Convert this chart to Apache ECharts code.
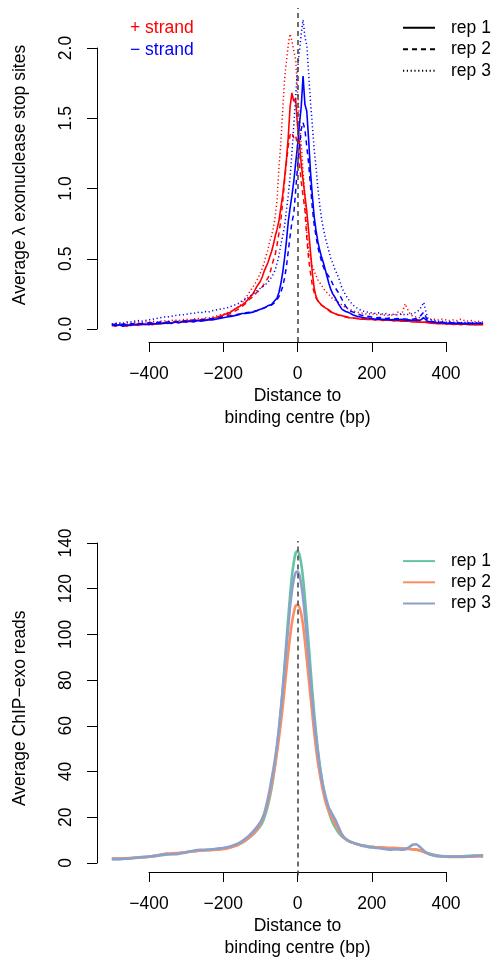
<!DOCTYPE html>
<html><head><meta charset="utf-8">
<script src="https://cdn.jsdelivr.net/npm/echarts@6/dist/echarts.min.js"></script>
<style>html,body{margin:0;padding:0;background:#fff}#c{width:493px;height:960px}</style>
</head><body><div id="c"></div><script>
// Distance to binding centre (bp)
const X = [-500,-490,-480,-470,-460,-450,-440,-430,-420,-410,-400,-390,-380,-370,-360,-350,-340,-330,-320,-310,-300,-290,-280,-270,-260,-250,-240,-230,-220,-210,-200,-190,-180,-170,-160,-150,-140,-130,-120,-110,-100,
 -95,-90,-85,-80,-75,-70,-65,-60,-55,-50,-45,-40,-35,-30,-25,-20,-15,-10,-5,0,5,10,15,20,25,30,35,40,45,50,55,60,65,70,75,80,85,90,95,
 100,110,120,130,140,150,160,170,180,190,200,210,220,230,240,250,260,270,280,290,300,310,320,330,340,350,360,370,380,390,400,410,420,430,440,450,460,470,480,490,500];

// Top panel: average lambda exonuclease stop sites
const plusRep1 = [.025,.02,.03,.025,.02,.03,.03,.025,.035,.03, .035,.03,.04,.035,.045,.04,.045,.05,.045,.055, .05,.06,.055,.06,.065,.06,.07,.075,.08,.09, .10,.11,.12,.14,.155,.17,.19,.22,.25,.30, .34,
 .37,.41,.44,.47,.51,.55,.60,.66,.71,.77, .86,.95,1.07,1.20,1.36,1.58,1.68,1.62,1.64,1.45, 1.33,1.18,1.06,.95,.84,.70,.55,.40,.29,.23, .20,.185,.17,.16,.15,.145,.135,.125,.115,
 .11,.10,.095,.088,.08,.078,.075,.07,.072,.068, .07,.065,.068,.06,.065,.062,.058,.06,.055,.058, .055,.05,.052,.048,.05,.045,.042,.04,.038,.04, .035,.038,.033,.035,.03,.035,.03,.032,.028,.03, .03];
const plusRep2 = [.03,.025,.03,.03,.035,.03,.035,.04,.035,.04, .04,.045,.04,.045,.05,.045,.05,.055,.05,.055, .06,.055,.06,.065,.06,.07,.065,.075,.08,.085, .09,.10,.11,.125,.14,.16,.18,.21,.23,.26, .28,
 .30,.32,.34,.36,.39,.44,.49,.53,.60,.68, .77,.90,1.05,1.18,1.30,1.38,1.40,1.36,1.38,1.30, 1.18,1.05,.95,.85,.65,.50,.40,.31,.26,.22, .20,.18,.17,.16,.15,.14,.13,.12,.115,
 .11,.10,.092,.085,.08,.078,.075,.072,.07,.068, .07,.066,.065,.068,.062,.065,.06,.062,.058,.06, .058,.055,.052,.05,.052,.048,.045,.042,.04,.042, .04,.038,.04,.036,.038,.035,.037,.034,.035,.032, .033];
const plusRep3 = [.035,.04,.035,.04,.045,.04,.045,.05,.045,.05, .05,.055,.05,.055,.06,.055,.06,.065,.06,.065, .07,.065,.07,.075,.07,.08,.078,.085,.09,.10, .105,.115,.125,.14,.155,.18,.22,.26,.30,.34, .40,
 .43,.47,.52,.56,.62,.66,.72,.80,.92,1.15, 1.32,1.55,1.77,1.90,2.02,2.10,2.05,1.98,1.92,1.70, 1.50,1.32,1.12,.95,.70,.56,.50,.45,.41,.38, .35,.33,.31,.29,.27,.26,.245,.23,.215,
 .21,.19,.17,.15,.14,.13,.12,.115,.11,.105, .11,.10,.105,.10,.095,.10,.095,.12,.10,.18, .12,.09,.085,.08,.08,.075,.07,.07,.065,.07, .065,.06,.065,.06,.07,.06,.055,.06,.05,.055, .05];
const minusRep1 = [.03,.025,.03,.02,.03,.025,.03,.035,.03,.035, .03,.04,.035,.04,.04,.045,.04,.05,.045,.05, .05,.055,.05,.06,.055,.06,.065,.065,.07,.075, .08,.085,.09,.095,.10,.11,.11,.115,.12,.13, .14,
 .145,.15,.16,.165,.17,.175,.19,.20,.22,.26, .32,.40,.50,.62,.76,.86,.95,1.05,1.18,1.30, 1.45,1.58,1.80,1.60,1.55,1.35,1.12,.95,.80,.70, .62,.56,.51,.47,.42,.37,.32,.28,.25,
 .23,.18,.14,.125,.115,.10,.09,.085,.08,.078, .075,.07,.072,.068,.07,.065,.068,.065,.07,.062, .065,.06,.065,.062,.08,.055,.05,.048,.045,.045, .042,.04,.042,.04,.038,.04,.037,.04,.038,.04, .04];
const minusRep2 = [.03,.035,.03,.035,.03,.035,.04,.035,.04,.04, .045,.04,.045,.05,.045,.05,.055,.05,.055,.06, .055,.06,.065,.06,.065,.07,.07,.075,.075,.08, .085,.09,.095,.10,.105,.11,.115,.12,.125,.13, .14,
 .145,.15,.155,.16,.165,.17,.18,.19,.21,.23, .26,.30,.36,.44,.55,.66,.76,.82,.98,1.15, 1.28,1.42,1.47,1.42,1.30,1.18,1.02,.86,.74,.66, .58,.53,.48,.44,.41,.39,.37,.35,.32,
 .30,.26,.21,.16,.13,.12,.11,.10,.095,.09, .085,.08,.082,.078,.075,.078,.072,.075,.07,.072, .068,.07,.075,.09,.12,.06,.055,.05,.05,.048, .045,.046,.043,.045,.042,.04,.042,.04,.042,.04, .04];
const minusRep3 = [.035,.04,.045,.04,.05,.05,.055,.06,.055,.06, .065,.07,.075,.08,.085,.085,.09,.095,.10,.10, .105,.11,.11,.12,.115,.125,.12,.13,.135,.14, .145,.15,.16,.17,.18,.20,.21,.23,.25,.27, .29,
 .30,.31,.32,.33,.35,.36,.39,.42,.47,.52, .60,.66,.73,.84,.95,1.08,1.25,1.45,1.65,1.85, 1.97,2.10,2.20,2.08,2.02,1.82,1.62,1.45,1.28,1.15, 1.00,.88,.78,.71,.65,.60,.55,.50,.47,
 .43,.37,.29,.24,.20,.17,.15,.135,.125,.12, .115,.11,.115,.105,.11,.10,.105,.10,.11,.10, .105,.11,.12,.14,.19,.08,.065,.06,.055,.055, .05,.052,.048,.05,.045,.048,.044,.046,.042,.045, .045];

// Bottom panel: average ChIP-exo reads
const readsRep1 = [1.7,1.8,1.8,1.9,2.0,2.1,2.2,2.3,2.4,2.5, 2.7,2.9,3.1,3.3,3.5,3.7,3.9,4.1,4.3,4.5, 4.7,4.9,5.1,5.3,5.5,5.6,5.7,5.8,5.9,6.1, 6.3,6.6,7.0,7.5,8.1,8.8,9.8,11.0,12.4,14.1, 16.2,
 17.5,19.5,22,25,28.5,32.5,37.5,43.5,50.5,58, 66.5,76,86,96.5,107,117,125.5,131.5,135.5,136.5, 135,131,124.5,116,106,96,85.5,75,65.5,57, 49.5,43,37.5,32.5,28.5,25,22,19.5,17.5,
 16,13.4,11.6,10.3,9.4,8.8,8.3,7.9,7.6,7.3, 7.1,6.9,6.8,6.6,6.5,6.4,6.3,6.2,6.2,6.2, 6.1,6.0,5.9,5.6,5.0,4.4,3.9,3.5,3.2,3.0, 2.9,2.8,2.8,2.8,2.9,3.0,3.1,3.2,3.3,3.3, 3.3];
const readsRep2 = [1.9,1.9,2.0,2.0,2.1,2.2,2.3,2.4,2.5,2.6, 2.8,3.0,3.3,3.6,3.9,4.1,4.2,4.3,4.4,4.6, 4.8,5.0,5.2,5.3,5.4,5.5,5.6,5.7,5.8,5.9, 6.1,6.4,6.8,7.3,8.0,8.9,10.0,11.3,12.8,14.6, 16.8,
 19,21,23.5,26.5,30,34,38.5,43,48.5,54.5, 61,68,76,84,92,99,105,109.5,112.5,113, 112,109,104,97,89,81,73,65,57,50, 44,39,34.5,30.5,27,24.5,22.5,21,19,
 17.5,14.5,12,10.5,9.5,8.8,8.2,7.8,7.4,7.1, 7.0,6.9,6.9,6.8,6.7,6.6,6.6,6.5,6.4,6.3, 6.2,6.0,5.8,5.4,4.8,4.2,3.6,3.2,3.0,2.9, 2.8,2.7,2.7,2.7,2.7,2.7,2.8,2.8,2.9,2.9, 2.8];
const readsRep3 = [1.8,1.7,1.7,1.8,1.9,2.0,2.2,2.4,2.6,2.7, 2.8,3.0,3.2,3.5,3.8,3.9,3.8,3.8,4.0,4.3, 4.6,5.0,5.4,5.7,5.8,5.8,5.9,6.0,6.2,6.4, 6.6,6.9,7.3,7.9,8.6,9.5,10.7,12.1,13.7,15.6, 17.8,
 19.5,21.5,24.5,28,32,36.5,41,46,52,59, 67,75,84,94,103,112,119,124,127,127.5, 126,122,116,108,99,90,80,71,62,55, 48,42,37,33,29.5,26.5,24,22.5,21,
 19.5,16,12.5,10.5,9.5,8.8,8.3,7.8,7.4,7.0, 6.8,6.6,6.5,6.2,6.0,5.8,5.9,6.0,5.8,6.0, 6.8,8.0,8.2,7.0,5.5,4.2,3.6,3.2,3.0,2.9, 2.8,2.8,2.8,2.8,2.8,2.8,2.9,3.0,3.1,3.3, 3.4];

const topYTicks = {min: 0, max: 2, interval: 0.5};
const bottomYTicks = {min: 0, max: 140, interval: 20};
const xTicks = {min: -400, max: 400, interval: 200};

const FONT = '"Liberation Sans", Arial, Helvetica, sans-serif';
const FS = 17.5;
const RED = '#FF0000', BLUE = '#0000FF';
const GREEN = '#66C2A5', ORANGE = '#FC8D62', PURPLE = '#8DA0CB';
const DASH = [5, 4], DOT = [1.2, 2.6];
const CLEAR = 'rgba(0,0,0,0)';

const pts = arr => X.map((x, i) => [x, arr[i]]);
const minus = v => (v < 0 ? '\u2212' + Math.abs(v) : String(v));
const txt = (extra) => Object.assign({fontFamily: FONT, fontSize: FS, color: '#000'}, extra || {});

const centreLine = {
  silent: true, symbol: ['none', 'none'], label: {show: false},
  lineStyle: {color: '#404040', width: 1.5, type: DASH},
  data: [{xAxis: 0}]
};

function line(name, arr, xi, color, type, width, extra) {
  return Object.assign({
    name, type: 'line', xAxisIndex: xi, yAxisIndex: xi, data: pts(arr),
    symbol: 'circle', symbolSize: 0, showSymbol: false, clip: true,
    lineStyle: {color, width, type, cap: 'butt'},
    itemStyle: {color: CLEAR, borderWidth: 0}
  }, extra || {});
}
function legendDummy(name, type) {
  return {name, type: 'line', xAxisIndex: 0, yAxisIndex: 0, data: [],
    symbol: 'circle', symbolSize: 0, showSymbol: false,
    lineStyle: {color: '#000', width: 1.2, type}, itemStyle: {color: CLEAR, borderWidth: 0}};
}

const hiddenAxis = (gi) => ({type: 'value', gridIndex: gi, show: false});
const tickX = (gi) => ({
  type: 'value', gridIndex: gi, min: xTicks.min, max: xTicks.max, interval: xTicks.interval,
  axisLine: {show: true, onZero: false, lineStyle: {color: '#000', width: 1}},
  axisTick: {show: true, length: 10, lineStyle: {color: '#000', width: 1}},
  axisLabel: txt({show: true, margin: 22, lineHeight: 20, formatter: minus, showMinLabel: true, showMaxLabel: true}),
  splitLine: {show: false},
  name: 'Distance to\nbinding centre (bp)', nameLocation: 'middle', nameGap: 43,
  nameTextStyle: txt({lineHeight: 22})
});
const tickY = (gi, t, fmt) => ({
  type: 'value', gridIndex: gi, position: 'left', min: t.min, max: t.max, interval: t.interval,
  axisLine: {show: true, onZero: false, lineStyle: {color: '#000', width: 1}},
  axisTick: {show: true, length: 10, lineStyle: {color: '#000', width: 1}},
  axisLabel: txt({show: true, margin: 21, rotate: 90, lineHeight: 20, formatter: fmt, showMinLabel: true, showMaxLabel: true}),
  splitLine: {show: false}
});
const dataY = (gi, min, max, name) => ({
  type: 'value', gridIndex: gi, min, max, position: 'left',
  axisLine: {show: false, onZero: false}, axisTick: {show: false}, axisLabel: {show: false}, splitLine: {show: false},
  name, nameLocation: 'middle', nameGap: 66, nameTextStyle: txt({lineHeight: 21})
});
const dataX = (gi) => ({type: 'value', gridIndex: gi, min: -540, max: 526.6,
  axisLine: {show: false, onZero: false}, axisTick: {show: false}, axisLabel: {show: false}, splitLine: {show: false}});

const option = {
  animation: false,
  textStyle: {fontFamily: FONT},
  title: [
    {text: '+ strand', left: 130, top: 17.5, padding: 0, textStyle: txt({color: RED, fontWeight: 'normal', lineHeight: 21.5})},
    {text: '\u2212 strand', left: 130, top: 39, padding: 0, textStyle: txt({color: BLUE, fontWeight: 'normal', lineHeight: 21.5})}
  ],
  legend: [
    {data: ['rep 1', 'rep 2', 'rep 3'], orient: 'vertical', left: 402, top: 17, padding: 0,
     itemWidth: 32, itemHeight: 14, itemGap: 0, selectedMode: false,
     textStyle: txt({lineHeight: 21.5, padding: [0, 0, 0, 11]})},
    {data: ['rep 1 ', 'rep 2 ', 'rep 3 '], orient: 'vertical', left: 402, top: 550.5, padding: 0,
     itemWidth: 32, itemHeight: 14, itemGap: 0, selectedMode: false,
     textStyle: txt({lineHeight: 21.2, padding: [0, 0, 0, 11]})}
  ],
  grid: [
    {left: 97, right: 0, top: 8, height: 334},
    {left: 149, right: 47, top: 300, height: 42},
    {left: 97, width: 10, top: 48, height: 281},
    {left: 97, right: 0, top: 541, height: 334.5},
    {left: 149, right: 47, top: 833, height: 42},
    {left: 97, width: 10, top: 543, height: 320}
  ],
  xAxis: [dataX(0), tickX(1), hiddenAxis(2), dataX(3), tickX(4), hiddenAxis(5)],
  yAxis: [
    dataY(0, -0.0925, 2.2847, 'Average \u03bb exonuclease stop sites'),
    hiddenAxis(1),
    tickY(2, topYTicks, v => v.toFixed(1)),
    dataY(3, -5.47, 140.87, 'Average ChIP\u2212exo reads'),
    hiddenAxis(4),
    tickY(5, bottomYTicks, v => String(v))
  ],
  series: [
    line('+ rep 1', plusRep1, 0, RED, 'solid', 1.6, {markLine: centreLine}),
    line('+ rep 2', plusRep2, 0, RED, DASH, 1.5),
    line('+ rep 3', plusRep3, 0, RED, DOT, 1.5),
    line('\u2212 rep 1', minusRep1, 0, BLUE, 'solid', 1.6),
    line('\u2212 rep 2', minusRep2, 0, BLUE, DASH, 1.5),
    line('\u2212 rep 3', minusRep3, 0, BLUE, DOT, 1.5),
    legendDummy('rep 1', 'solid'),
    legendDummy('rep 2', DASH),
    legendDummy('rep 3', DOT),
    line('rep 1 ', readsRep1, 3, GREEN, 'solid', 2.6, {smooth: 0.2}),
    line('rep 2 ', readsRep2, 3, ORANGE, 'solid', 2.6, {smooth: 0.2}),
    line('rep 3 ', readsRep3, 3, PURPLE, 'solid', 2.6, {smooth: 0.2}),
    {name: 'centre', type: 'line', xAxisIndex: 3, yAxisIndex: 3, data: [], symbol: 'none', markLine: centreLine}
  ]
};

const chart = echarts.init(document.getElementById('c'), null, {renderer: 'canvas'});
chart.setOption(option);
</script></body></html>
